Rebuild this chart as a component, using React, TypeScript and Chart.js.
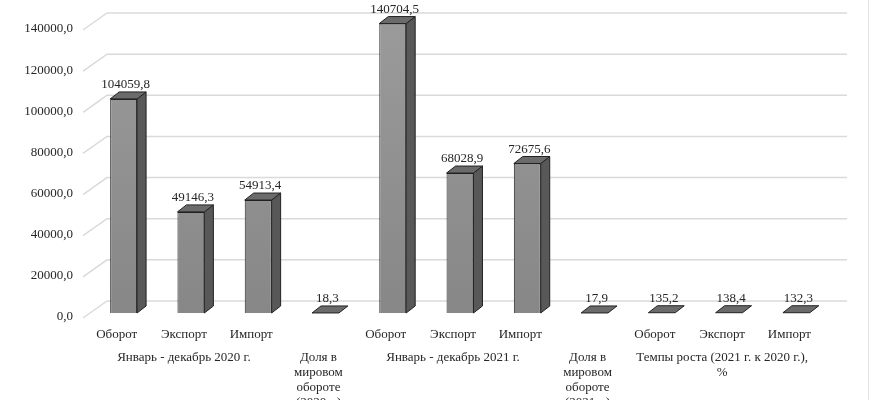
import React, { useEffect, useRef } from 'react';
import { Chart, registerables } from 'chart.js';

Chart.register(...registerables);

const categories = ['Оборот', 'Экспорт', 'Импорт', '', 'Оборот', 'Экспорт', 'Импорт', '', 'Оборот', 'Экспорт', 'Импорт'];
const values = [104059.8, 49146.3, 54913.4, 18.3, 140704.5, 68028.9, 72675.6, 17.9, 135.2, 138.4, 132.3];
const shareIndex = [3, 7];
const shareLines = [
  ['Доля в', 'мировом', 'обороте', '(2020 г.)'],
  ['Доля в', 'мировом', 'обороте', '(2021 г.)'],
];
const groupFrom = [0, 4, 8];
const groupTo = [2, 6, 10];
const groupLines = [
  ['Январь - декабрь 2020 г.'],
  ['Январь - декабрь 2021 г.'],
  ['Темпы роста (2021 г. к 2020 г.),', '%'],
];
const yMin = 0;
const yMax = 140000;
const yStep = 20000;

const FONT = '"Liberation Serif", "Times New Roman", serif';
const TEXT = '#262626';
const fmt = (v: number) => v.toFixed(1).replace('.', ',');

const DX = 9;
const DY = 7;

const gridPlugin = {
  id: 'grid3d',
  beforeDatasetsDraw(chart: any) {
    const ctx = chart.ctx;
    const ys = chart.scales.y;
    ctx.save();
    ctx.strokeStyle = '#dadada';
    ctx.lineWidth = 1.5;
    ys.ticks.forEach((t: any) => {
      const y = ys.getPixelForValue(t.value);
      ctx.beginPath();
      ctx.moveTo(83, y + 5);
      ctx.lineTo(107, y - 12);
      ctx.lineTo(847, y - 12);
      ctx.stroke();
    });
    ctx.restore();
  },
};

const bar3dPlugin = {
  id: 'bar3d',
  afterDatasetsDraw(chart: any) {
    const ctx = chart.ctx;
    const meta = chart.getDatasetMeta(0);
    ctx.save();
    ctx.lineWidth = 1;
    ctx.strokeStyle = '#222222';
    ctx.lineJoin = 'round';
    meta.data.forEach((el: any, i: number) => {
      const p = el.getProps(['x', 'y', 'base', 'width'], true);
      const l = p.x - p.width / 2;
      const r = p.x + p.width / 2;
      const top = Math.min(p.y, p.base);
      const base = p.base;
      // side
      if (base - top > 1) {
        ctx.beginPath();
        ctx.moveTo(r, top);
        ctx.lineTo(r + DX, top - DY);
        ctx.lineTo(r + DX, base - DY);
        ctx.lineTo(r, base);
        ctx.closePath();
        ctx.fillStyle = '#585858';
        ctx.fill();
        ctx.stroke();
      }
      // top
      ctx.beginPath();
      ctx.moveTo(l, top);
      ctx.lineTo(l + DX, top - DY);
      ctx.lineTo(r + DX, top - DY);
      ctx.lineTo(r, top);
      ctx.closePath();
      ctx.fillStyle = '#6b6b6b';
      ctx.fill();
      ctx.stroke();
      // value label
      ctx.fillStyle = TEXT;
      ctx.font = `13px ${FONT}`;
      ctx.textAlign = 'center';
      ctx.textBaseline = 'middle';
      ctx.fillText(fmt(values[i]), p.x + 2, top - 14);
    });
    ctx.restore();
  },
  afterDraw(chart: any) {
    const ctx = chart.ctx;
    const xs = chart.scales.x;
    ctx.save();
    ctx.fillStyle = TEXT;
    ctx.font = `13px ${FONT}`;
    ctx.textAlign = 'center';
    ctx.textBaseline = 'middle';
    groupLines.forEach((lines, g) => {
      const cx = (xs.getPixelForValue(groupFrom[g]) + xs.getPixelForValue(groupTo[g])) / 2 - 7;
      lines.forEach((ln, k) => ctx.fillText(ln, cx, 358 + k * 15));
    });
    shareLines.forEach((lines, s) => {
      const cx = xs.getPixelForValue(shareIndex[s]) - 7;
      lines.forEach((ln, k) => ctx.fillText(ln, cx, 358 + k * 15));
    });
    ctx.strokeStyle = '#e2e2e2';
    ctx.lineWidth = 1;
    ctx.beginPath();
    ctx.moveTo(868.5, 0);
    ctx.lineTo(868.5, 400);
    ctx.stroke();
    ctx.restore();
  },
};

export default function App() {
  const ref = useRef<HTMLCanvasElement>(null);
  useEffect(() => {
    if (!ref.current) return;
    const chart = new Chart(ref.current, {
      type: 'bar',
      data: {
        labels: categories,
        datasets: [
          {
            data: values,
            backgroundColor: (c: any) => {
              const ch = c.chart;
              const a = ch.chartArea;
              if (!a) return '#8e8e8e';
              const g = ch.ctx.createLinearGradient(0, a.top, 0, a.bottom);
              g.addColorStop(0, '#9a9a9a');
              g.addColorStop(1, '#878787');
              return g;
            },
            borderColor: '#222222',
            borderWidth: 1,
            barPercentage: 0.4,
            categoryPercentage: 1,
            clip: false as any,
          },
        ],
      },
      options: {
        responsive: false,
        animation: false,
        layout: { padding: { top: 25, right: 40, left: 0, bottom: 0 } },
        plugins: { legend: { display: false }, tooltip: { enabled: false } },
        scales: {
          x: {
            grid: { display: false, drawTicks: false },
            border: { display: false },
            ticks: {
              color: TEXT,
              font: { family: FONT, size: 13 },
              padding: 14,
              labelOffset: -7,
              maxRotation: 0,
              autoSkip: false,
            },
            afterFit: (s: any) => {
              s.height = 87;
            },
          },
          y: {
            min: yMin,
            max: yMax,
            grid: { display: false, drawTicks: false },
            border: { display: false },
            ticks: {
              stepSize: yStep,
              color: TEXT,
              font: { family: FONT, size: 13 },
              padding: 17,
              labelOffset: 4,
              callback: (v: any) => fmt(Number(v)),
            },
            afterFit: (s: any) => {
              s.width = 90;
            },
          },
        },
      },
      plugins: [gridPlugin, bar3dPlugin],
    });
    return () => chart.destroy();
  }, []);
  return (
    <div style={{ position: 'absolute', left: 0, top: 0, width: 870, height: 400, background: '#fff' }}>
      <canvas ref={ref} width={870} height={400} style={{ width: 870, height: 400 }} />
    </div>
  );
}
